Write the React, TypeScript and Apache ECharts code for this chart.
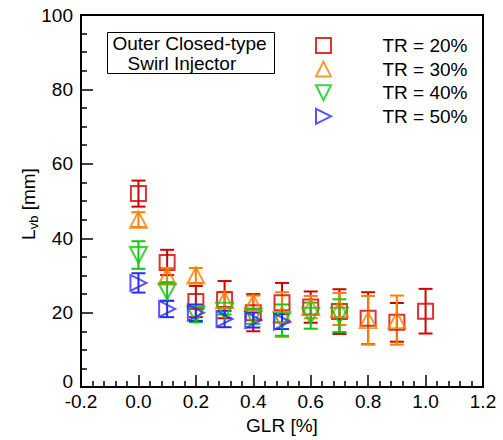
import React, { useEffect, useRef } from "react";
import * as echarts from "echarts";

const FONT = '"Liberation Sans", Arial, sans-serif';

const glr = [0.0, 0.1, 0.2, 0.3, 0.4, 0.5, 0.6, 0.7, 0.8, 0.9, 1.0];
const tr20 = [52, 33.5, 23, 23.5, 20, 22.7, 21.5, 20.3, 18.5, 17.4, 20.4];
const tr20Err = [3.5, 3.4, 4.2, 5, 5, 5.3, 4.2, 6, 7, 5.2, 6];
const tr30 = [45, 29.8, 30, 23.4, 22.6, 19.5, 21.5, 21, 18, 18];
const tr30Err = [2, 2.2, 2, 2.2, 2, 6, 3, 4.3, 6.5, 6.6];
const tr40 = [35.5, 25.7, 19.5, 20.5, 19, 18, 19.2, 19.2];
const tr40Err = [3.7, 2.5, 2, 1, 2, 4.2, 3.5, 4.4];
const tr50 = [28, 21, 20, 18.3, 18, 17.6];
const tr50Err = [2.6, 2.2, 2.2, 2.2, 2, 2];

const seriesNames = ["TR = 20%", "TR = 30%", "TR = 40%", "TR = 50%"];
const colors = ["#d40000", "#ff8000", "#10c810", "#2a2aff"];
const symbols = [
  "path://M0,0 L10,0 L10,10 L0,10 Z",
  "path://M5,0 L10,10 L0,10 Z",
  "path://M0,0 L10,0 L5,10 Z",
  "path://M0,0 L10,5 L0,10 Z",
];
const symbolSizes = [[15, 15], [17, 16], [17, 16], [16, 16]];
const values = [tr20, tr30, tr40, tr50];
const errors = [tr20Err, tr30Err, tr40Err, tr50Err];

export default function App() {
  const ref = useRef<HTMLDivElement>(null);
  useEffect(() => {
    if (!ref.current) return;
    const chart = echarts.init(ref.current, undefined, { renderer: "svg" });
    const series: any[] = [];
    values.forEach((vals, i) => {
      const color = colors[i];
      series.push({
        name: "err" + i,
        type: "custom",
        data: vals.map((v, k) => [glr[k], v, errors[i][k]]),
        encode: { x: 0, y: 1 },
        renderItem: (params: any, api: any) => {
          const x = api.value(0);
          const y = api.value(1);
          const e = api.value(2);
          const top = api.coord([x, y + e]);
          const bot = api.coord([x, y - e]);
          const hw = 7;
          const st = { stroke: color, lineWidth: 2 };
          return {
            type: "group",
            children: [
              { type: "line", shape: { x1: top[0], y1: top[1], x2: bot[0], y2: bot[1] }, style: st },
              { type: "line", shape: { x1: top[0] - hw, y1: top[1], x2: top[0] + hw, y2: top[1] }, style: st },
              { type: "line", shape: { x1: bot[0] - hw, y1: bot[1], x2: bot[0] + hw, y2: bot[1] }, style: st },
            ],
          };
        },
      });
      series.push({
        name: seriesNames[i],
        type: "scatter",
        data: vals.map((v, k) => [glr[k], v]),
        symbol: symbols[i],
        symbolSize: symbolSizes[i],
        itemStyle: { color: "rgba(0,0,0,0)", borderColor: color, borderWidth: 2 },
      });
    });

    chart.setOption({
      animation: false,
      grid: { left: 81, right: 20, top: 15, bottom: 48, show: true, borderColor: "#000", borderWidth: 2 },
      legend: {
        data: seriesNames.map((n, i) => ({ name: n, icon: symbols[i] })),
        orient: "vertical",
        left: 310,
        top: 31,
        itemWidth: 16,
        itemHeight: 15,
        itemGap: 4.6,
        textStyle: { fontFamily: FONT, fontSize: 19, color: "#000", padding: [0, 0, 0, 46] },
      },
      xAxis: {
        type: "value",
        min: -0.2,
        max: 1.2,
        interval: 0.2,
        name: "GLR [%]",
        nameLocation: "middle",
        nameGap: 20,
        nameTextStyle: { fontFamily: FONT, fontSize: 19, color: "#000" },
        axisLine: { show: true, onZero: false, lineStyle: { color: "#000", width: 2 } },
        axisTick: { show: true, inside: true, length: 12, lineStyle: { color: "#000", width: 1.5 } },
        minorTick: { show: true, splitNumber: 5, length: 6, lineStyle: { color: "#000", width: 1.5 } },
        splitLine: { show: false },
        axisLabel: {
          fontFamily: FONT,
          fontSize: 19,
          color: "#000",
          margin: 5,
          formatter: (v: number) => (Math.abs(v) < 1e-9 ? "0.0" : v.toFixed(1)),
        },
      },
      yAxis: {
        type: "value",
        min: 0,
        max: 100,
        interval: 20,
        axisLine: { show: true, onZero: false, lineStyle: { color: "#000", width: 2 } },
        axisTick: { show: true, inside: true, length: 12, lineStyle: { color: "#000", width: 1.5 } },
        minorTick: { show: true, splitNumber: 4, length: 6, lineStyle: { color: "#000", width: 1.5 } },
        splitLine: { show: false },
        axisLabel: {
          fontFamily: FONT,
          fontSize: 19,
          color: "#000",
          margin: 8,
          formatter: (v: number) => (v === 0 ? "{z|0}" : String(v)),
          rich: { z: { fontFamily: FONT, fontSize: 19, color: "#000", padding: [0, 0, 12, 0] } },
        },
      },
      graphic: [
        {
          type: "text",
          x: 28,
          y: 204,
          rotation: Math.PI / 2,
          style: {
            text: "{m|L}{s|vb}{m| [mm]}",
            align: "center",
            verticalAlign: "middle",
            rich: {
              m: { fontFamily: FONT, fontSize: 19, fill: "#000" },
              s: { fontFamily: FONT, fontSize: 13, fill: "#000", padding: [10, 0, 0, 0] },
            },
          },
        },
        {
          type: "group",
          left: 107,
          top: 32,
          children: [
            { type: "rect", shape: { x: 0, y: 0, width: 167, height: 41 }, style: { fill: "#fff", stroke: "#000", lineWidth: 1 } },
            { type: "text", x: 5, y: 11, style: { text: "Outer Closed-type", fontFamily: FONT, fontSize: 19, fill: "#000", verticalAlign: "middle" } },
            { type: "text", x: 20, y: 31, style: { text: "Swirl Injector", fontFamily: FONT, fontSize: 19, fill: "#000", verticalAlign: "middle" } },
          ],
        },
      ],
      series,
    });
    return () => chart.dispose();
  }, []);
  return <div ref={ref} style={{ position: "absolute", left: 0, top: 0, width: 503, height: 440 }} />;
}
